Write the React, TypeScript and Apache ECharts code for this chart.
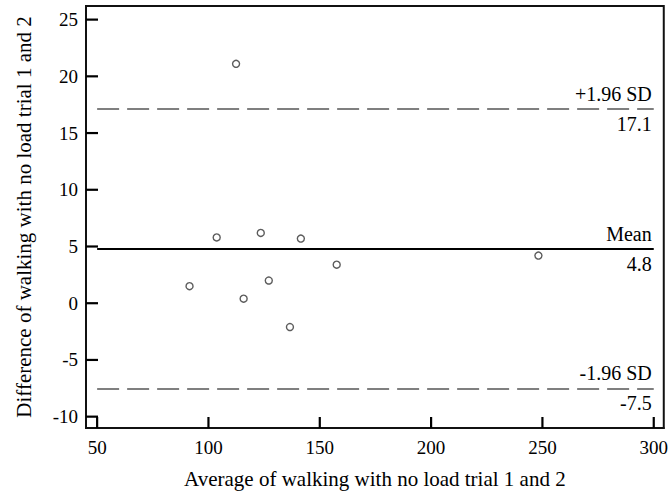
import React, { useEffect, useRef } from "react";
import * as echarts from "echarts";

const avgValues = [112.4, 103.7, 123.5, 141.5, 91.5, 115.8, 127.1, 136.6, 157.6, 248.2];
const diffValues = [21.1, 5.8, 6.2, 5.7, 1.5, 0.4, 2.0, -2.1, 3.4, 4.2];
const xTicks = [50, 100, 150, 200, 250, 300];
const yTicks = [-10, -5, 0, 5, 10, 15, 20, 25];
const meanDiff = 4.8;
const upperLimit = 17.1;
const lowerLimit = -7.5;
const lineStart = 50;
const lineEnd = 300;
const xMin = 45;
const xMax = 304.5;
const yMin = -11;
const yMax = 26.2;

const FONT = "Liberation Serif, Times New Roman, serif";

const GRID = { left: 86, right: 4, top: 6, bottom: 67 };
const W = 671;
const H = 495;

export default function App() {
  const ref = useRef<HTMLDivElement>(null);
  useEffect(() => {
    if (!ref.current) return;
    const chart = echarts.init(ref.current, null, { renderer: "svg" });
    const pts = avgValues.map((x, i) => [x, diffValues[i]]);
    const labelStyle = {
      show: true,
      color: "#000",
      fontFamily: FONT,
      fontSize: 20,
      distance: [2, 5],
    };
    const limitLine = (y: number, top: string, bottom: string, dashed: boolean) => [
      [
        {
          coord: [lineStart, y],
          lineStyle: dashed
            ? { color: "#555", width: 1.6, type: [22, 8] }
            : { color: "#000", width: 2, type: "solid" },
          label: { ...labelStyle, position: "insideEndTop", formatter: top },
        },
        { coord: [lineEnd, y] },
      ],
      [
        {
          coord: [lineStart, y],
          lineStyle: { color: "rgba(0,0,0,0)", width: 1, type: "solid" },
          label: { ...labelStyle, position: "insideEndBottom", formatter: bottom },
        },
        { coord: [lineEnd, y] },
      ],
    ];
    chart.setOption({
      animation: false,
      textStyle: { fontFamily: FONT },
      grid: {
        ...GRID,
        show: true,
        borderColor: "#111",
        borderWidth: 2,
        backgroundColor: "transparent",
      },
      xAxis: {
        type: "value",
        min: xMin,
        max: xMax,
        name: "Average of walking with no load trial 1 and 2",
        nameLocation: "middle",
        nameGap: 40,
        nameTextStyle: { fontFamily: FONT, fontSize: 21, color: "#000" },
        axisLine: { show: true, onZero: false, lineStyle: { color: "#111", width: 2 } },
        axisTick: { show: false },
        axisLabel: {
          customValues: xTicks,
          fontFamily: FONT,
          fontSize: 19,
          color: "#000",
          margin: 10,
        },
        splitLine: { show: false },
      },
      yAxis: {
        type: "value",
        min: yMin,
        max: yMax,
        name: "Difference of walking with no load trial 1 and 2",
        nameLocation: "middle",
        nameGap: 52,
        nameTextStyle: { fontFamily: FONT, fontSize: 21, color: "#000" },
        axisLine: { show: true, onZero: false, lineStyle: { color: "#111", width: 2 } },
        axisTick: { show: false },
        axisLabel: {
          customValues: yTicks,
          fontFamily: FONT,
          fontSize: 19,
          color: "#000",
          margin: 8,
        },
        splitLine: { show: false },
      },
      series: [
        {
          type: "scatter",
          data: pts,
          symbol: "circle",
          symbolSize: 7,
          itemStyle: { color: "#fff", borderColor: "#333", borderWidth: 1.4 },
          z: 5,
          markLine: {
            silent: true,
            symbol: "none",
            z: 3,
            data: [
              ...limitLine(upperLimit, "+1.96 SD", "17.1", true),
              ...limitLine(meanDiff, "Mean", "4.8", false),
              ...limitLine(lowerLimit, "-1.96 SD", "-7.5", true),
            ],
          },
        },
      ],
    });
    // inward ticks placed through the chart's own scales
    const tickStyle = { stroke: "#000", lineWidth: 2.2 };
    const tickEls: any[] = [];
    xTicks.forEach((v) => {
      const p = chart.convertToPixel({ gridIndex: 0 }, [v, yMin]) as number[];
      tickEls.push({
        type: "line",
        z: 10,
        shape: { x1: p[0], y1: p[1], x2: p[0], y2: p[1] - 11 },
        style: tickStyle,
      });
    });
    yTicks.forEach((v) => {
      const p = chart.convertToPixel({ gridIndex: 0 }, [xMin, v]) as number[];
      tickEls.push({
        type: "line",
        z: 10,
        shape: { x1: p[0], y1: p[1], x2: p[0] + 12, y2: p[1] },
        style: tickStyle,
      });
    });
    chart.setOption({ graphic: { elements: tickEls } });
    return () => chart.dispose();
  }, []);
  return <div ref={ref} style={{ width: W, height: H, position: "absolute", left: 0, top: 0 }} />;
}
